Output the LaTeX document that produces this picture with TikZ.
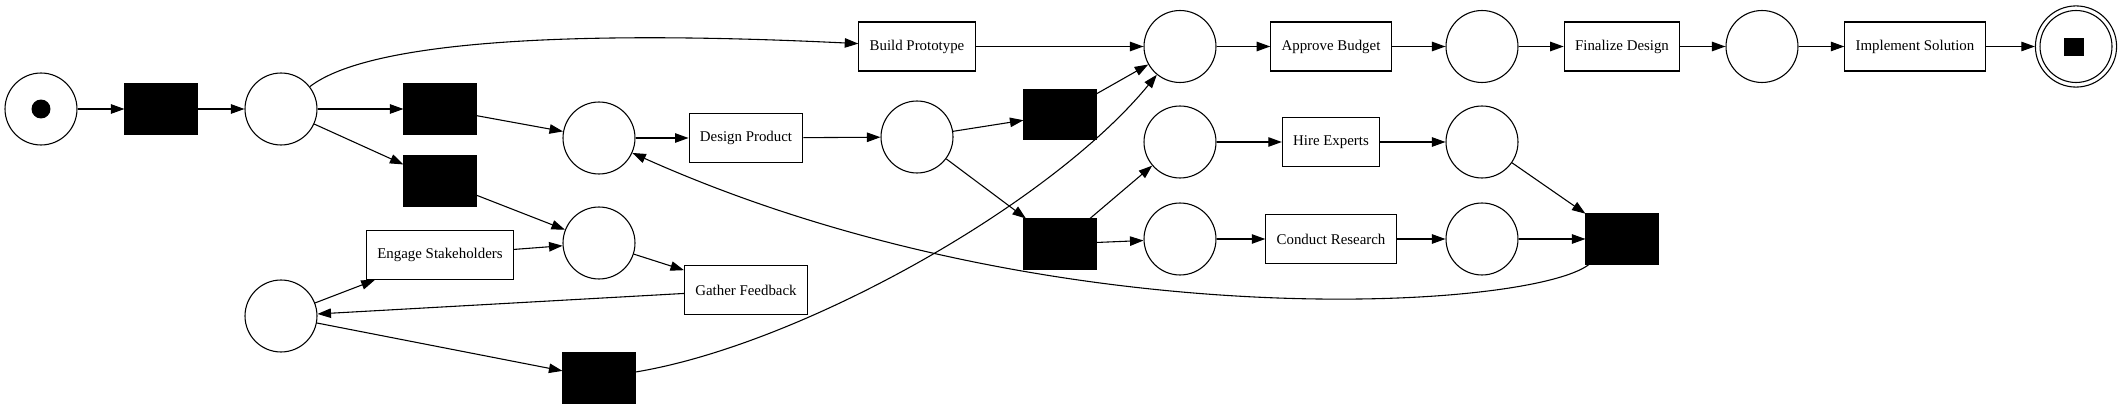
\documentclass[tikz,border=0pt]{standalone}
\usepackage{fontspec}
\setmainfont{Liberation Serif}
\usepackage{tikz}
\usetikzlibrary{positioning,shapes,arrows.meta}

\tikzset{
	place/.style={circle, draw=black, line width=0.8pt, minimum size=53.2pt, inner sep=0pt},
	trans/.style={rectangle, fill=black, draw=black, line width=0.8pt, minimum width=53.2pt, minimum height=36.9pt, inner sep=0pt},
	task/.style={rectangle, draw=black, line width=0.8pt, minimum height=36.2pt, inner xsep=8pt, font=\fontsize{11}{13}\selectfont},
	flow/.style={draw=black, line width=0.8pt, -{Triangle[length=10pt,width=7pt]}},
	token/.style={circle, fill=black, minimum size=14pt, inner sep=0pt},
	endtoken/.style={rectangle, fill=black, minimum width=14.8pt, minimum height=13.7pt, inner sep=0pt}
}

\begin{document}
\begin{tikzpicture}[x=0.7391pt, y=-0.7391pt]

	\useasboundingbox (0,0) rectangle (2121,404);

	\node[place] (pstart) at (41,109) {};
	\node[token] (tok) at (41,109) {};
	\node[trans] (t1) at (161,109) {};
	\node[place] (p1) at (281,109) {};
	\node[trans] (t2) at (440,109) {};
	\node[trans] (t3) at (440,181) {};
	\node[place] (p2) at (599,138) {};
	\node[task] (design) at (746,138) {Design Product};
	\node[place] (p3) at (917,137) {};
	\node[place] (p4) at (599,243) {};
	\node[task] (engage) at (440,255) {Engage Stakeholders};
	\node[task] (gather) at (746,290) {Gather Feedback};
	\node[place] (p5) at (281,316) {};
	\node[trans] (t4) at (599,378) {};

	\node[task] (build) at (917,46.5) {Build Prototype};
	\node[place] (p6) at (1180,46.5) {};
	\node[task] (approve) at (1331,46.5) {Approve Budget};
	\node[place] (p7) at (1482,46.5) {};
	\node[task] (finalize) at (1622,46.5) {Finalize Design};
	\node[place] (p8) at (1762,46.5) {};
	\node[task] (implement) at (1915,46.5) {Implement Solution};
	\node[circle, draw=black, line width=0.8pt, minimum size=60pt, inner sep=0pt] (pend) at (2076,46.5) {};
	\draw[black, line width=0.8pt] (pend.center) circle[radius=26.6pt];
	\node[endtoken] (endtok) at (2074,47) {};

	\node[trans] (t5) at (1060,114.5) {};
	\node[trans] (t6) at (1060,244) {};
	\node[place] (p9) at (1180,142) {};
	\node[task] (hire) at (1331,142) {Hire Experts};
	\node[place] (p10) at (1482,142) {};
	\node[place] (p11) at (1180,239) {};
	\node[task] (research) at (1331,239) {Conduct Research};
	\node[place] (p12) at (1482,239) {};
	\node[trans] (t7) at (1622,239) {};

	\draw[flow] (pstart) -- (t1);
	\draw[flow] (t1) -- (p1);
	\draw[flow] (p1) .. controls (370,40) and (580,30) .. (build);
	\draw[flow] (p1) -- (t2);
	\draw[flow] (p1) -- (t3);
	\draw[flow] (t2) -- (p2);
	\draw[flow] (t3) -- (p4);
	\draw[flow] (p2) -- (design);
	\draw[flow] (design) -- (p3);
	\draw[flow] (p3) -- (t5);
	\draw[flow] (p3) -- (t6);

	\draw[flow] (build) -- (p6);
	\draw[flow] (t5) -- (p6);
	\draw[flow] (p6) -- (approve);
	\draw[flow] (approve) -- (p7);
	\draw[flow] (p7) -- (finalize);
	\draw[flow] (finalize) -- (p8);
	\draw[flow] (p8) -- (implement);
	\draw[flow] (implement) -- (pend);

	\draw[flow] (t6) -- (p9);
	\draw[flow] (t6) -- (p11);
	\draw[flow] (p9) -- (hire);
	\draw[flow] (hire) -- (p10);
	\draw[flow] (p11) -- (research);
	\draw[flow] (research) -- (p12);
	\draw[flow] (p10) -- (t7);
	\draw[flow] (p12) -- (t7);
	\draw[flow] (t7) .. controls (1530,310) and (1050,340) .. (p2);

	\draw[flow] (engage) -- (p4);
	\draw[flow] (p4) -- (gather);
	\draw[flow] (gather) -- (p5);
	\draw[flow] (p5) -- (engage);
	\draw[flow] (p5) -- (t4);
	\draw[flow] (t4) .. controls (800,345) and (1050,205) .. (p6);

\end{tikzpicture}
\end{document}
